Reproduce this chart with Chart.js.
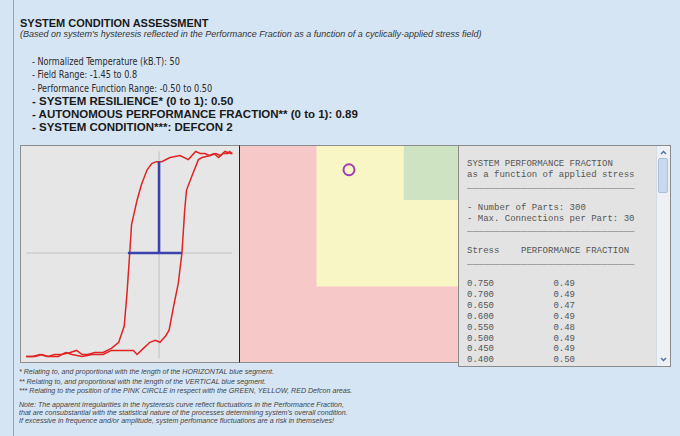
<!DOCTYPE html>
<html>
<head>
<meta charset="utf-8">
<script src="https://cdn.jsdelivr.net/npm/chart.js@4/dist/chart.umd.min.js"></script>
<style>
  html, body { margin: 0; padding: 0; }
  body { width: 680px; height: 436px; background: #d6e5f3; position: relative; overflow: hidden; }
  #frame { position: absolute; left: 13px; top: 0; width: 1px; height: 436px; background: #9aa1a9; }
  #title { position: absolute; left: 20px; top: 17px; font: bold 11px/12px "Liberation Sans", Arial, sans-serif; color: #1a1a1a; white-space: nowrap; }
  #subtitle { position: absolute; left: 20px; top: 28.5px; font: italic 9px/10px "Liberation Sans", Arial, sans-serif; color: #333; white-space: nowrap; }
  #facts { position: absolute; left: 32px; top: 55px; color: #2a2a2a; white-space: nowrap; }
  #facts div { height: 13.3px; font: 10.5px/13.3px "DejaVu Sans Condensed", "DejaVu Sans", sans-serif;
               transform: scaleX(0.86); transform-origin: left center; }
  #facts div.strong { font: bold 11.5px/13.3px "Liberation Sans", Arial, sans-serif; color: #1a1a1a; transform: none; }
  #hystBox { position: absolute; left: 20px; top: 145px; width: 218px; height: 216px; background: #e6e6e6;
             border: 1px solid #8e8e8e; border-right-color: #222; }
  #defconBox { position: absolute; left: 240px; top: 145px; width: 218px; height: 216px;
               border-top: 1px solid #8e8e8e; border-bottom: 1px solid #8e8e8e; }
  canvas { display: block; }
  #listing { position: absolute; left: 458px; top: 145px; width: 213px; height: 222px; box-sizing: border-box;
             background: #e3e3e3; border: 1px solid #8a8a8a; overflow: hidden; }
  #listing pre { position: absolute; left: 8px; top: 13px; margin: 0; font: 9px/10.9px "Liberation Mono", monospace; color: #555; }
  #scroll { position: absolute; right: 0; top: 0; bottom: 0; width: 13px; background: #edf1f6; border-left: 1px solid #d5dce6; }
  #scroll .btn { position: absolute; left: 0; width: 13px; height: 12px; }
  #scroll .thumb { position: absolute; left: 1px; top: 12px; width: 10px; height: 35px; background: #cad8ee;
                   border: 1px solid #a9bedc; border-radius: 2px; box-sizing: border-box; }
  .note { position: absolute; left: 19px; font: italic 7.1px/9px "Liberation Sans", Arial, sans-serif; color: #444; white-space: nowrap; }
</style>
</head>
<body>
<div id="frame"></div>
<div id="title">SYSTEM CONDITION ASSESSMENT</div>
<div id="subtitle">(Based on system's hysteresis reflected in the Performance Fraction as a function of a cyclically-applied stress field)</div>
<div id="facts"></div>

<div id="hystBox"><canvas id="hyst" width="218" height="216"></canvas></div>
<div id="defconBox"><canvas id="defcon" width="218" height="216"></canvas></div>

<div id="listing">
  <pre id="listText"></pre>
  <div id="scroll">
    <svg class="btn" style="top:1px" width="13" height="12"><polyline points="4,7 6.5,4.5 9,7" fill="none" stroke="#4b6ea6" stroke-width="1.4"/></svg>
    <div class="thumb"></div>
    <svg class="btn" style="bottom:1px" width="13" height="12"><polyline points="4,5 6.5,7.5 9,5" fill="none" stroke="#4b6ea6" stroke-width="1.4"/></svg>
  </div>
</div>

<div class="note" style="top:368px">* Relating to, and proportional with the length of the HORIZONTAL blue segment.</div>
<div class="note" style="top:378px">** Relating to, and proportional with the length of the VERTICAL blue segment.</div>
<div class="note" style="top:387px">*** Relating to the position of the PINK CIRCLE in respect with the GREEN, YELLOW, RED Defcon areas.</div>
<div class="note" style="top:401px">Note: The apparent irregularities in the hysteresis curve reflect fluctuations in the Performance Fraction,</div>
<div class="note" style="top:409px">that are consubstantial with the statistical nature of the processes determining system's overall condition.</div>
<div class="note" style="top:417px">If excessive in frequence and/or amplitude, system perfomance fluctuations are a risk in themselves!</div>

<script>
// Parametros del sistema
const temperature = 50;
const fieldRange = [-1.45, 0.8];
const perfRange = [-0.50, 0.50];
const resilience = 0.50;
const autonomy = 0.89;
const defcon = 2;
const numParts = 300;
const maxConnections = 30;

// Histéresis - rama descendente (campo de 0.8 a -1.45)
const downField = [0.80, 0.77, 0.75, 0.70, 0.65, 0.60, 0.55, 0.50, 0.45, 0.40, 0.32, 0.23, 0.12, 0.03, -0.03, -0.08,
                   -0.13, -0.19, -0.24, -0.30, -0.32, -0.35, -0.38, -0.44, -0.52, -0.61, -0.70, -0.78, -0.84, -0.90,
                   -0.97, -1.06, -1.14, -1.21, -1.28, -1.35, -1.45];
const downPerf = [0.49, 0.50, 0.49, 0.49, 0.47, 0.49, 0.48, 0.49, 0.49, 0.50, 0.46, 0.48, 0.47, 0.45, 0.45, 0.44,
                  0.41, 0.34, 0.26, 0.14, 0.00, -0.20, -0.36, -0.44, -0.47, -0.49, -0.49, -0.50, -0.50, -0.48,
                  -0.49, -0.50, -0.50, -0.51, -0.50, -0.51, -0.51];

// Histéresis - rama ascendente (campo de -1.45 a 0.8)
const upField = [-1.45, -1.38, -1.30, -1.22, -1.10, -1.02, -0.95, -0.84, -0.73, -0.61, -0.52, -0.41, -0.35, -0.28,
                 -0.24, -0.17, -0.10, -0.04, 0.01, 0.07, 0.11, 0.16, 0.21, 0.25, 0.28, 0.30, 0.36, 0.43, 0.47, 0.56,
                 0.62, 0.67, 0.72, 0.78, 0.80];
const upPerf = [-0.51, -0.51, -0.50, -0.51, -0.51, -0.49, -0.50, -0.51, -0.50, -0.50, -0.48, -0.48, -0.48, -0.48,
                -0.50, -0.47, -0.44, -0.43, -0.44, -0.41, -0.38, -0.26, -0.15, 0.00, 0.21, 0.31, 0.38, 0.46, 0.47, 0.48,
                0.49, 0.48, 0.50, 0.49, 0.49];

// Segmentos azules y ejes
const horizSegment = [-0.34, 0.25];   // campo, a rendimiento 0
const vertSegment = [0, 0.45];        // rendimiento, a campo 0
const axisField = [-1.45, 0.80];
const axisPerf = [-0.52, 0.50];

// Zonas Defcon (límite inferior de cada zona) y posición del sistema
const zoneNames = ['RED', 'YELLOW', 'GREEN'];
const zoneStart = [0, 0.35, 0.75];
const systemPoint = [resilience, autonomy];

// Tabla de rendimiento
const stressValues = [0.750, 0.700, 0.650, 0.600, 0.550, 0.500, 0.450, 0.400];
const fractionValues = [0.49, 0.49, 0.47, 0.49, 0.48, 0.49, 0.49, 0.50];

const colors = {
    curve: '#e02424',
    segment: '#3a42b0',
    axis: '#bfc2c6',
    zones: ['#f7c8c8', '#f7f6c4', '#cde3c1'],
    circle: '#a53bb5'
};

const toPoints = (xs, ys) => xs.map((x, i) => ({ x, y: ys[i] }));

// Texto de cabecera
const facts = [
    ['- Normalized Temperature (kB.T): ' + temperature, false],
    ['- Field Range: ' + fieldRange[0] + ' to ' + fieldRange[1], false],
    ['- Performance Function Range: ' + perfRange[0].toFixed(2) + ' to ' + perfRange[1].toFixed(2), false],
    ['- SYSTEM RESILIENCE* (0 to 1): ' + resilience.toFixed(2), true],
    ['- AUTONOMOUS PERFORMANCE FRACTION** (0 to 1): ' + autonomy.toFixed(2), true],
    ['- SYSTEM CONDITION***: DEFCON ' + defcon, true]
];
document.getElementById('facts').innerHTML = facts
    .map(([text, strong]) => `<div class="${strong ? 'strong' : ''}">${text}</div>`).join('');

const baseOptions = (xMin, xMax, yMin, yMax) => ({
    responsive: false,
    animation: false,
    layout: { padding: 0, autoPadding: false },
    elements: { point: { radius: 0 }, line: { tension: 0 } },
    plugins: { legend: { display: false }, tooltip: { enabled: false } },
    scales: {
        x: { type: 'linear', display: false, min: xMin, max: xMax },
        y: { type: 'linear', display: false, min: yMin, max: yMax }
    }
});

// Gráfico de histéresis
new Chart(document.getElementById('hyst'), {
    type: 'line',
    data: {
        datasets: [
            { data: [{ x: horizSegment[0], y: 0 }, { x: horizSegment[1], y: 0 }], borderColor: colors.segment, borderWidth: 2.6 },
            { data: [{ x: 0, y: vertSegment[0] }, { x: 0, y: vertSegment[1] }], borderColor: colors.segment, borderWidth: 2.6 },
            { data: toPoints(downField, downPerf), borderColor: colors.curve, borderWidth: 1.5 },
            { data: toPoints(upField, upPerf), borderColor: colors.curve, borderWidth: 1.5 },
            { data: [{ x: axisField[0], y: 0 }, { x: axisField[1], y: 0 }], borderColor: colors.axis, borderWidth: 1 },
            { data: [{ x: 0, y: axisPerf[0] }, { x: 0, y: axisPerf[1] }], borderColor: colors.axis, borderWidth: 1 }
        ]
    },
    options: baseOptions(-1.507, 0.873, -0.537, 0.527)
});

// Gráfico de zonas Defcon
const zoneSets = zoneStart.map((start, i) => ({
    label: zoneNames[i],
    data: [{ x: start, y: 1 }, { x: 1, y: 1 }],
    fill: { value: start },
    backgroundColor: colors.zones[i],
    borderColor: 'rgba(0,0,0,0)',
    borderWidth: 0
})).reverse();

new Chart(document.getElementById('defcon'), {
    type: 'line',
    data: {
        datasets: [
            {
                data: [{ x: systemPoint[0], y: systemPoint[1] }],
                showLine: false,
                pointRadius: 5.5,
                pointBorderWidth: 2,
                pointBorderColor: colors.circle,
                pointBackgroundColor: 'rgba(0,0,0,0)'
            },
            ...zoneSets
        ]
    },
    options: baseOptions(0, 1, 0, 1)
});

// Listado de la fracción de rendimiento
const rule = '_'.repeat(31);
const lines = [
    'SYSTEM PERFORMANCE FRACTION',
    'as a function of applied stress',
    rule, '',
    '- Number of Parts: ' + numParts,
    '- Max. Connections per Part: ' + maxConnections,
    rule, '',
    'Stress    PERFORMANCE FRACTION',
    rule, '',
    ...stressValues.map((s, i) => s.toFixed(3) + ' '.repeat(11) + fractionValues[i].toFixed(2))
];
document.getElementById('listText').textContent = lines.join('\n');
</script>
</body>
</html>
